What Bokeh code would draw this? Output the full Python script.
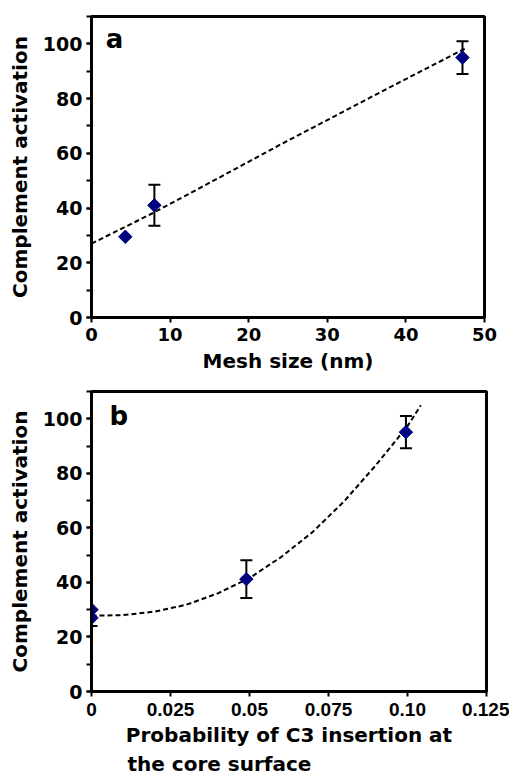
import math
from bokeh.plotting import figure
from bokeh.layouts import column
from bokeh.models import (ColumnDataSource, Range1d, SingleIntervalTicker, FixedTicker,
                          Whisker, TeeHead, Label, Title)
from bokeh.embed import file_html
from bokeh.resources import INLINE

# ---------------- data ----------------
# panel a
mesh_x = [4.3, 8.0, 47.2]
mesh_y = [29.5, 41.0, 95.0]
err_a_x = [8.0, 47.2]
err_a_y = [41.0, 95.0]
err_a_e = [7.5, 6.0]
trend_a_x = [0, 7.7, 15.4, 24.3, 28.3, 37.6, 47.6]
trend_a_y = [27.0, 38.0, 49.8, 63.6, 69.6, 83.6, 98.4]

# panel b
prob_x = [0.0, 0.0, 0.049, 0.0995]
prob_y = [30.0, 27.0, 41.2, 95.1]
err_b_x = [0.0, 0.049, 0.0995]
err_b_y = [27.0, 41.2, 95.1]
err_b_e = [3.0, 6.9, 5.9]
trend_b_x = [0.0, 0.01, 0.02, 0.03, 0.04, 0.05, 0.06, 0.07, 0.08, 0.09, 0.10, 0.1042]
trend_b_y = [27.8, 28.0, 29.3, 31.8, 36.0, 41.6, 49.3, 58.5, 69.8, 83.0, 97.3, 104.9]

b_ticks = [0, 0.025, 0.05, 0.075, 0.1, 0.125]
b_tick_labels = ["0", "0.025", "0.05", "0.075", "0.10", "0.125"]

NAVY = "#000080"
FONT = "DejaVu Sans"


def style(p, xlabel, ylabel):
    p.outline_line_color = "black"
    p.outline_line_width = 3
    p.xgrid.visible = False
    p.ygrid.visible = False
    for ax in (p.xaxis[0], p.yaxis[0]):
        ax.axis_line_width = 3
        ax.major_tick_line_width = 2
        ax.minor_tick_line_width = 2
        ax.major_tick_in = 0
        ax.major_tick_out = 5
        ax.minor_tick_in = 0
        ax.minor_tick_out = 5
        ax.major_label_text_font = FONT
        ax.major_label_text_font_style = "bold"
        ax.major_label_text_color = "black"
        ax.axis_label_text_font = FONT
        ax.axis_label_text_font_style = "bold"
        ax.axis_label_text_font_size = "20px"
        ax.axis_label_text_color = "black"
    p.xaxis[0].axis_label = xlabel
    p.yaxis[0].axis_label = ylabel
    p.yaxis[0].major_label_text_font_size = "19px"
    p.yaxis[0].major_label_standoff = 4
    p.yaxis[0].axis_label_standoff = 8
    p.yaxis[0].ticker = SingleIntervalTicker(interval=20, num_minor_ticks=2)
    p.xaxis[0].minor_tick_out = 0


# ---------------- panel a ----------------
p1 = figure(frame_width=393, frame_height=301, x_range=Range1d(0, 50), y_range=Range1d(0, 110),
            output_backend="svg", toolbar_location=None,
            min_border_left=91, min_border_right=25, min_border_top=16, min_border_bottom=65)
style(p1, "Mesh size (nm)", "Complement activation")
p1.xaxis[0].ticker = SingleIntervalTicker(interval=10, num_minor_ticks=0)
p1.xaxis[0].major_label_text_font_size = "18px"
p1.xaxis[0].major_label_standoff = 5
p1.xaxis[0].axis_label_standoff = 5

p1.line(trend_a_x, trend_a_y, line_color="black", line_width=2, line_dash="5 3")
src_ea = ColumnDataSource(dict(x=err_a_x, up=[y + e for y, e in zip(err_a_y, err_a_e)],
                               lo=[y - e for y, e in zip(err_a_y, err_a_e)]))
p1.add_layout(Whisker(source=src_ea, base="x", upper="up", lower="lo", line_width=2,
                      line_color="black",
                      upper_head=TeeHead(size=12, line_width=2, line_color="black"),
                      lower_head=TeeHead(size=12, line_width=2, line_color="black")))
p1.scatter(mesh_x, mesh_y, marker="square", size=9.5, angle=math.pi / 4,
           fill_color=NAVY, line_color=NAVY)
p1.add_layout(Label(x=1.8, y=101.6, text="a", text_font=FONT, text_font_style="bold",
                    text_font_size="26px", text_baseline="alphabetic", text_color="black"))

# ---------------- panel b ----------------
p2 = figure(frame_width=395, frame_height=300, x_range=Range1d(0, 0.125), y_range=Range1d(0, 110),
            output_backend="svg", toolbar_location=None,
            min_border_left=89, min_border_right=25, min_border_top=9, min_border_bottom=40)
style(p2, "Probability of C3 insertion at", "Complement activation")
p2.xaxis[0].ticker = FixedTicker(ticks=b_ticks)
p2.xaxis[0].major_label_overrides = {t: s for t, s in zip(b_ticks, b_tick_labels)}
p2.xaxis[0].major_label_text_font = "Liberation Sans"
p2.xaxis[0].major_label_text_font_size = "19px"
p2.xaxis[0].major_label_standoff = 6
p2.xaxis[0].axis_label_standoff = 4
p2.add_layout(Title(text="the core surface", align="left", offset=36, standoff=0,
                    text_font=FONT, text_font_style="bold", text_font_size="20px",
                    text_color="black"), "below")

p2.line(trend_b_x, trend_b_y, line_color="black", line_width=2, line_dash="5 3")
src_eb = ColumnDataSource(dict(x=err_b_x, up=[y + e for y, e in zip(err_b_y, err_b_e)],
                               lo=[y - e for y, e in zip(err_b_y, err_b_e)]))
p2.add_layout(Whisker(source=src_eb, base="x", upper="up", lower="lo", line_width=2,
                      line_color="black",
                      upper_head=TeeHead(size=12, line_width=2, line_color="black"),
                      lower_head=TeeHead(size=12, line_width=2, line_color="black")))
p2.scatter(prob_x, prob_y, marker="square", size=9.5, angle=math.pi / 4,
           fill_color=NAVY, line_color=NAVY)
p2.add_layout(Label(x=0.0057, y=101.0, text="b", text_font=FONT, text_font_style="bold",
                    text_font_size="26px", text_baseline="alphabetic", text_color="black"))

layout = column(p1, p2, spacing=0)
open("out.html", "w").write(file_html(layout, INLINE))
